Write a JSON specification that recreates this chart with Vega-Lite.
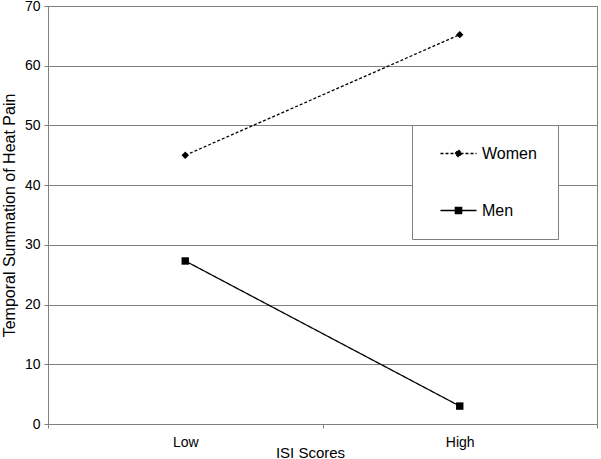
{
  "$schema": "https://vega.github.io/schema/vega-lite/v6.json",
  "width": 549,
  "height": 418,
  "autosize": "none",
  "padding": {"left": 48, "top": 6, "right": 4, "bottom": 35},
  "background": "white",
  "config": {
    "font": "Liberation Sans",
    "view": {"stroke": "#808080", "strokeWidth": 1}
  },
  "data": {
    "values": [
      {"isi": "Low", "sex": "Women", "v": 45.0},
      {"isi": "High", "sex": "Women", "v": 65.2},
      {"isi": "Low", "sex": "Men", "v": 27.3},
      {"isi": "High", "sex": "Men", "v": 3.0}
    ]
  },
  "encoding": {
    "x": {
      "field": "isi", "type": "nominal", "sort": ["Low", "High"],
      "bandPosition": 0.5,
      "scale": {"type": "band", "paddingInner": 0, "paddingOuter": 0},
      "axis": {
        "title": "ISI Scores", "tickBand": "extent", "grid": false, "labelAngle": 0,
        "tickSize": 4, "labelPadding": 7, "titlePadding": -4,
        "domainColor": "#808080", "tickColor": "#808080",
        "labelFontSize": 14, "labelColor": "black",
        "titleFontSize": 15, "titleFontWeight": "normal", "titleColor": "black",
        "titleX": 262
      }
    },
    "y": {
      "field": "v", "type": "quantitative",
      "scale": {"domain": [0, 70], "nice": false, "zero": true},
      "axis": {
        "title": "Temporal Summation of Heat Pain",
        "values": [0, 10, 20, 30, 40, 50, 60, 70],
        "grid": true, "gridColor": "#808080", "gridOpacity": 1,
        "tickSize": 4, "labelPadding": 4, "titlePadding": 7,
        "domainColor": "#808080", "tickColor": "#808080",
        "labelFontSize": 14, "labelColor": "black",
        "titleFontSize": 16, "titleFontWeight": "normal", "titleColor": "black"
      }
    }
  },
  "layer": [
    {
      "mark": {"type": "line", "color": "black", "strokeWidth": 1.3},
      "encoding": {
        "detail": {"field": "sex"},
        "strokeDash": {
          "field": "sex", "type": "nominal",
          "scale": {"domain": ["Women", "Men"], "range": [[3, 2], [1, 0]]},
          "legend": {
            "title": null, "orient": "none", "legendX": 364, "legendY": 119,
            "strokeColor": "#808080", "fillColor": "white",
            "padding": 20.5, "rowPadding": 41,
            "symbolSize": 49, "symbolStrokeWidth": 1.3, "symbolStrokeColor": "black",
            "labelOffset": 33.5, "labelFontSize": 16, "labelColor": "black",
            "encode": {
              "symbols": {
                "update": {
                  "shape": {"signal": "datum.value === 'Women' ? 'M0,0H10.29M5.14,-1L6.14,0L5.14,1L4.14,0Z' : 'M0,0H10.29M4.24,-0.9H6.04V0.9H4.24Z'"},
                  "fill": {"value": "black"},
                  "stroke": {"value": "black"}
                }
              }
            }
          }
        }
      }
    },
    {
      "mark": {"type": "point", "filled": true, "color": "black", "size": 55, "opacity": 1},
      "encoding": {
        "shape": {
          "condition": {"test": "datum.sex === 'Women'", "value": "diamond"},
          "value": "square"
        }
      }
    }
  ]
}
